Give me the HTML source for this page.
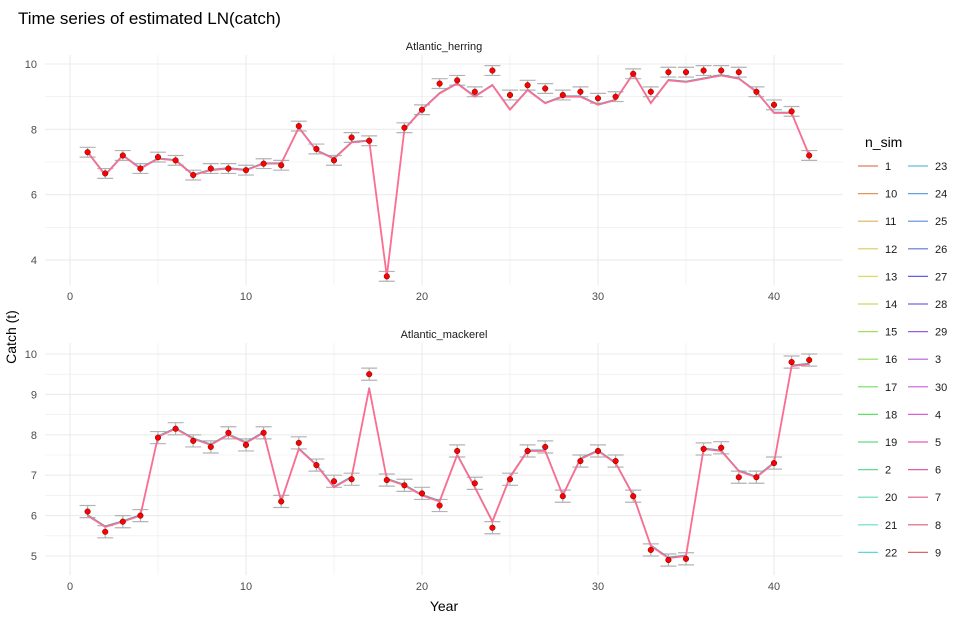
<!DOCTYPE html>
<html><head><meta charset="utf-8"><style>
body{margin:0;background:#fff;font-family:"Liberation Sans",sans-serif;}
svg text{font-family:"Liberation Sans",sans-serif;}
</style></head><body>
<svg id="c" width="975" height="621">
<text x="18" y="24" font-size="17" fill="#000">Time series of estimated LN(catch)</text>
<text x="16" y="337" font-size="14" fill="#000" transform="rotate(-90 16 337)" text-anchor="middle">Catch (t)</text>
<text x="444" y="611" font-size="14" fill="#000" text-anchor="middle">Year</text>
<g id="leg"><text x="865" y="147" font-size="14" fill="#000">n_sim</text></g>
</svg>
<script>
const years=[1,2,3,4,5,6,7,8,9,10,11,12,13,14,15,16,17,18,19,20,21,22,23,24,25,26,27,28,29,30,31,32,33,34,35,36,37,38,39,40,41,42];
const herringObs=[7.3,6.65,7.2,6.8,7.15,7.05,6.6,6.8,6.8,6.75,6.95,6.9,8.1,7.4,7.05,7.75,7.65,3.5,8.05,8.6,9.4,9.5,9.15,9.8,9.05,9.35,9.25,9.05,9.15,8.95,9.0,9.7,9.15,9.75,9.75,9.8,9.8,9.75,9.15,8.75,8.55,7.2];
const herringFit=[7.3,6.6,7.2,6.8,7.1,7.05,6.6,6.75,6.8,6.75,6.95,6.95,8.05,7.35,7.1,7.6,7.65,3.5,8.0,8.6,9.1,9.4,9.0,9.35,8.6,9.2,8.8,9.0,9.0,8.75,8.9,9.7,8.8,9.5,9.45,9.55,9.65,9.55,9.15,8.5,8.5,7.2];
const mackObs=[6.1,5.6,5.85,6.0,7.93,8.15,7.85,7.7,8.05,7.75,8.05,6.35,7.8,7.25,6.85,6.9,9.5,6.88,6.75,6.55,6.25,7.6,6.8,5.7,6.9,7.6,7.7,6.48,7.35,7.6,7.35,6.48,5.15,4.9,4.93,7.65,7.68,6.95,6.95,7.3,9.8,9.85];
const mackFit=[6.0,5.72,5.85,6.0,7.95,8.15,7.9,7.75,8.0,7.8,8.05,6.35,7.65,7.25,6.7,6.95,9.15,6.9,6.75,6.5,6.35,7.5,6.7,5.85,6.95,7.6,7.6,6.5,7.4,7.6,7.3,6.5,5.25,4.95,5.0,7.65,7.6,7.1,6.95,7.3,9.7,9.75];
const xTicks=[0,10,20,30,40];
const herringTicks=[4,6,8,10];
const mackTicks=[5,6,7,8,9,10];
const legendLabels=["1","10","11","12","13","14","15","16","17","18","19","2","20","21","22","23","24","25","26","27","28","29","3","30","4","5","6","7","8","9"];
const NS="http://www.w3.org/2000/svg";
const svg=document.getElementById('c');
function mk(t,a,p){const e=document.createElementNS(NS,t);for(const k in a)e.setAttribute(k,a[k]);(p||svg).appendChild(e);return e;}
const X0=45,X1=843;
const sx=v=>70+v*17.6;
function panel(name,title,top,bot,y10,ppu,minorStep,ticks,obs,fit,err,showX){
  const g=mk('g',{});
  
  
  const sy=v=>y10+(10-v)*ppu;
  const ymin=10-(bot-y10)/ppu, ymax=10+(y10-top)/ppu;
  for(let v=Math.ceil(ymin/minorStep)*minorStep;v<=ymax+1e-9;v+=minorStep){
    const major=Math.abs(v-Math.round(v))<1e-9&&ticks.includes(Math.round(v));
    const l=mk('line',{x1:X0,x2:X1,y1:sy(v),y2:sy(v),stroke:'#ebebeb','stroke-width':major?1.1:0.6},g);
    
    
  }
  for(let v=0;v<=40;v+=5){
    const l=mk('line',{x1:sx(v),x2:sx(v),y1:top,y2:bot,stroke:'#ebebeb','stroke-width':v%10==0?1.1:0.6},g);
    
    
  }
  ticks.forEach(t=>{const e=mk('text',{x:37,y:sy(t)+4,'font-size':11,fill:'#4d4d4d','text-anchor':'end'},g);e.textContent=t;
    
    });
  const xy=showX?590:300;
  xTicks.forEach(t=>{const e=mk('text',{x:sx(t),y:xy,'font-size':11,fill:'#4d4d4d','text-anchor':'middle'},g);e.textContent=t;
    
    });
  const st=mk('text',{x:(X0+X1)/2,y:top-5,'font-size':11,fill:'#1a1a1a','text-anchor':'middle'},g);st.textContent=title;
  
  
  years.forEach((yr,i)=>{
    const x=sx(yr),y1=sy(obs[i]+err),y2=sy(obs[i]-err);
    const eb=mk('path',{d:`M${x-8},${y1}H${x+8}M${x},${y1}V${y2}M${x-8},${y2}H${x+8}`,stroke:'#b3b3b3','stroke-width':1.2,fill:'none'},g);
    
    
  });
  const l1=mk('polyline',{points:years.map((yr,i)=>sx(yr)+','+sy(fit[i]+0.02)).join(' '),fill:'none',stroke:'#00BFC4','stroke-width':1.2},g);
  
  
  const l2=mk('polyline',{points:years.map((yr,i)=>sx(yr)+','+sy(fit[i])).join(' '),fill:'none',stroke:'#FF6C91','stroke-width':1.8},g);
  
  
  years.forEach((yr,i)=>{
    const c=mk('circle',{cx:sx(yr),cy:sy(obs[i]),r:2.8,fill:'#ff0000',stroke:'#660000','stroke-width':0.5},g);
    
    
  });
}
panel('herring','Atlantic_herring',55,285,64,32.67,1,herringTicks,herringObs,herringFit,0.15,false);
panel('mackerel','Atlantic_mackerel',343,575,354,40.4,0.5,mackTicks,mackObs,mackFit,0.15,true);
const leg=document.getElementById('leg');
legendLabels.forEach((lab,i)=>{
  const col=i<15?0:1,row=i%15;
  const y=166+row*27.6,x=858+col*50;
  const hue=(15+360*i/30)%360;
  const ln=mk('line',{x1:x,x2:x+20,y1:y,y2:y,stroke:`hsl(${hue},65%,62%)`,'stroke-width':1.2},leg);
  
  
  const t=mk('text',{x:x+27,y:y+4,'font-size':11,fill:'#1a1a1a'},leg);t.textContent=lab;
  
  
});
</script>
</body></html>
